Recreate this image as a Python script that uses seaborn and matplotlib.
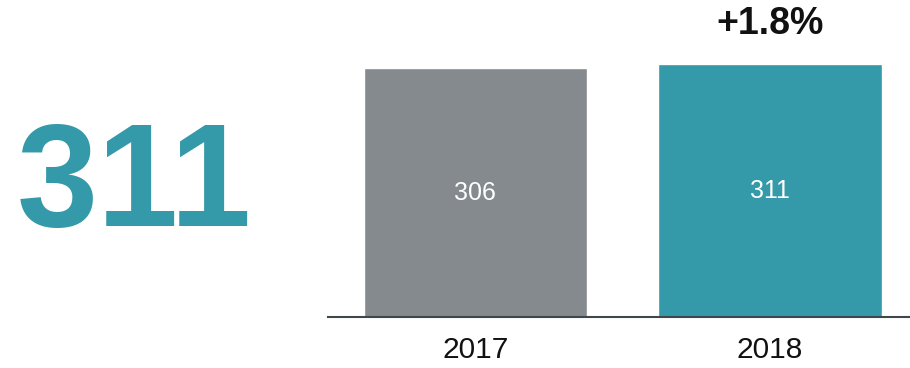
import matplotlib
matplotlib.use("Agg")
import matplotlib.pyplot as plt
import seaborn as sns
import pandas as pd

years = ["2017", "2018"]
values = [306, 311]
bar_colors = ["#858a8e", "#3499a8"]
headline = "311"
change_label = "+1.8%"

sns.set_theme(style="white")
plt.rcParams["font.family"] = ["Liberation Sans", "DejaVu Sans"]

df = pd.DataFrame({"year": years, "value": values})

fig = plt.figure(figsize=(9.10, 3.68), dpi=100)
ax = fig.add_axes([328 / 910, 51 / 368, 582 / 910, 317 / 368])

sns.barplot(data=df, x="year", y="value", hue="year", palette=bar_colors,
            width=0.757, legend=False, ax=ax, saturation=1)

ax.set_ylim(0, 390)
ax.set_xlim(-0.5, 1.475)
for s in ["top", "right", "left"]:
    ax.spines[s].set_visible(False)
ax.spines["bottom"].set_color("#3f474d")
ax.spines["bottom"].set_linewidth(1.5)
ax.set_yticks([])
ax.set_xlabel("")
ax.set_ylabel("")
ax.tick_params(axis="x", length=0, pad=14, labelsize=21.5, labelcolor="#111111")

for i, v in enumerate(values):
    ax.text(i, v / 2, str(v), ha="center", va="center", color="white", fontsize=18)

ax.text(1, values[1] + 27, change_label, ha="center", va="bottom",
        fontsize=27, fontweight="bold", color="#111111")

fig.text(17 / 910, 1 - 226 / 368, headline, ha="left", va="baseline",
         fontsize=105, fontweight="bold", color="#3499a8")

fig.savefig("out.png", dpi=100)
